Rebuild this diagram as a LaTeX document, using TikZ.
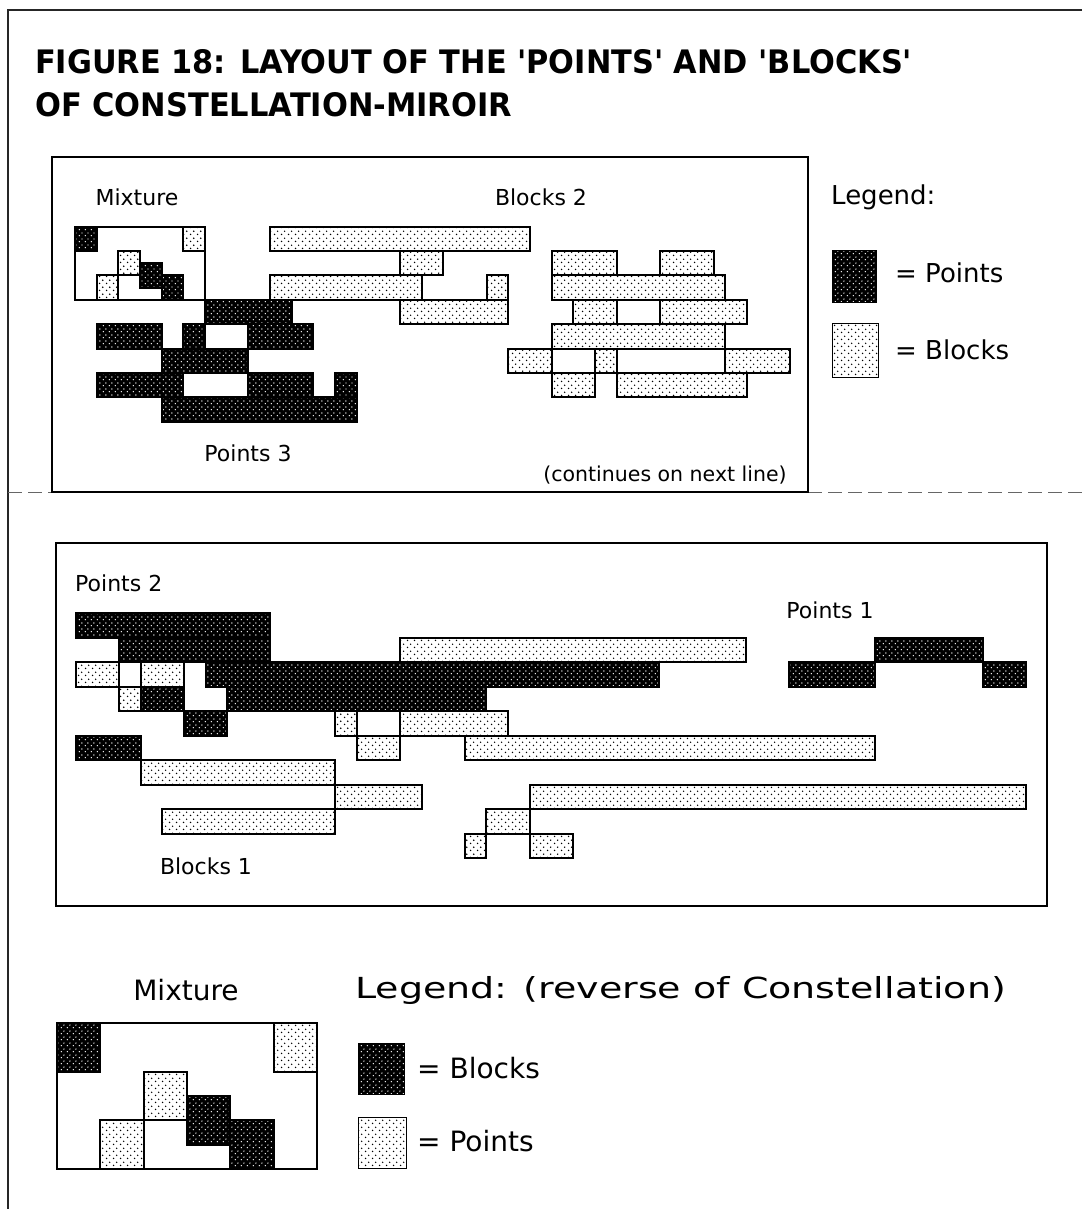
\documentclass[tikz,border=0pt]{standalone}
\usepackage{fontspec}
\usepackage{graphicx}
\setmainfont{DejaVu Sans}
\usetikzlibrary{patterns.meta}

\tikzdeclarepattern{
  name=sparsedots,
  type=uncolored,
  bottom left={(0pt,0pt)},
  top right={(7pt,7pt)},
  tile size={(7pt,7pt)},
  code={
    \tikzset{x=1pt,y=1pt}
    \fill (1.75,1.75) circle [radius=0.9];
    \fill (5.25,5.25) circle [radius=0.9];
  }
}
\tikzdeclarepattern{
  name=densedots,
  type=uncolored,
  bottom left={(0pt,0pt)},
  top right={(6pt,6pt)},
  tile size={(6pt,6pt)},
  code={
    \tikzset{x=1pt,y=1pt}
    \fill (1.5,1.5) circle [radius=0.8];
    \fill (4.5,4.5) circle [radius=0.8];
  }
}

\tikzset{
  cellD/.style={preaction={fill=black}, pattern=densedots, pattern color=white, draw=black, line width=2pt},
  cellL/.style={preaction={fill=white}, pattern=sparsedots, pattern color=black, draw=black, line width=2pt},
  mixbox/.style={fill=white, draw=black, line width=2pt},
  panelframe/.style={draw=black, line width=1.5pt},
  outerline/.style={draw=black!85, line width=1.5pt},
  divider/.style={draw=black!60, line width=1pt, dash pattern=on 14pt off 6pt},
  lbl/.style={inner sep=0pt, font=\fontsize{22}{26}\selectfont},
  smalllbl/.style={inner sep=0pt, font=\fontsize{20.5}{24}\selectfont},
  leg/.style={inner sep=0pt, font=\fontsize{26}{30}\selectfont},
  bigleg/.style={inner sep=0pt, font=\fontsize{28}{32}\selectfont},
  ttl/.style={inner sep=0pt, anchor=base west}
}
\newcommand{\darkcell}[4]{\path[cellD] (#1,#2) rectangle (#3,#4);}
\newcommand{\lightcell}[4]{\path[cellL] (#1,#2) rectangle (#3,#4);}

\begin{document}
\begin{tikzpicture}[x=1pt, y=-1pt]
\useasboundingbox[fill=white] (0,0) rectangle (1082,1209);

% outer frame lines
\draw[outerline] (1082,10) -- (8,10) -- (8,1209);
% divider continuing the first panel's bottom
\draw[divider] (8,492) -- (52,492);
\draw[divider] (808,492) -- (1082,492);

% title
\node[ttl] (title1) at (35,74) {\resizebox{877pt}{24pt}{\bfseries FIGURE 18: LAYOUT OF THE \textquotesingle POINTS\textquotesingle\ AND \textquotesingle BLOCKS\textquotesingle}};
\node[ttl] (title2) at (35,117) {\resizebox{477pt}{24pt}{\bfseries OF CONSTELLATION-MIROIR}};

% ---------------- panel 1 ----------------
\draw[panelframe] (52,157) rectangle (808,492);
\begin{scope}[shift={(75,226.5)}, x=21.67pt, y=-24.4pt]
  % mixture
  \path[mixbox] (0,0) rectangle (6,3);
  \darkcell{0}{0}{1}{1}
  \lightcell{5}{0}{6}{1}
  \lightcell{2}{1}{3}{2}
  \darkcell{3}{1.5}{4}{2.5}
  \darkcell{4}{2}{5}{3}
  \lightcell{1}{2}{2}{3}
  % Points 3
  \darkcell{6}{3}{10}{4}
  \darkcell{1}{4}{4}{5}
  \darkcell{5}{4}{6}{5}
  \darkcell{8}{4}{11}{5}
  \darkcell{4}{5}{8}{6}
  \darkcell{1}{6}{5}{7}
  \darkcell{8}{6}{11}{7}
  \darkcell{12}{6}{13}{7}
  \darkcell{4}{7}{13}{8}
  % Blocks 2
  \lightcell{9}{0}{21}{1}
  \lightcell{15}{1}{17}{2}
  \lightcell{9}{2}{16}{3}
  \lightcell{19}{2}{20}{3}
  \lightcell{15}{3}{20}{4}
  \lightcell{22}{1}{25}{2}
  \lightcell{27}{1}{29.5}{2}
  \lightcell{22}{2}{30}{3}
  \lightcell{23}{3}{25}{4}
  \lightcell{27}{3}{31}{4}
  \lightcell{22}{4}{30}{5}
  \lightcell{20}{5}{22}{6}
  \lightcell{24}{5}{25}{6}
  \lightcell{30}{5}{33}{6}
  \lightcell{22}{6}{24}{7}
  \lightcell{25}{6}{31}{7}
\end{scope}
\node[lbl] (mix1) at (137,197) {Mixture};
\node[lbl] (blk2) at (541,197) {Blocks 2};
\node[lbl] (pts3) at (248,453) {Points 3};
\node[smalllbl] (cont) at (665,475) {(continues on next line)};
% legend 1
\node[leg, anchor=west] (legend1) at (831,197) {Legend:};
\path[cellD, line width=1pt] (832,250) rectangle (876,302);
\path[cellL, line width=1pt] (832,323) rectangle (878,377);
\node[leg, anchor=west] (legP) at (895,273) {= Points};
\node[leg, anchor=west] (legB) at (895,350) {= Blocks};

% ---------------- panel 2 ----------------
\draw[panelframe] (56,543) rectangle (1047,906);
\begin{scope}[shift={(76,613)}, x=21.6pt, y=-24.5pt]
  % dark
  \darkcell{0}{0}{9}{1}
  \darkcell{2}{1}{9}{2}
  \darkcell{6}{2}{27}{3}
  \darkcell{3}{3}{5}{4}
  \darkcell{7}{3}{19}{4}
  \darkcell{5}{4}{7}{5}
  \darkcell{0}{5}{3}{6}
  \darkcell{33}{2}{37}{3}
  \darkcell{37}{1}{42}{2}
  \darkcell{42}{2}{44}{3}
  % light
  \lightcell{15}{1}{31}{2}
  \lightcell{0}{2}{2}{3}
  \lightcell{3}{2}{5}{3}
  \lightcell{2}{3}{3}{4}
  \lightcell{12}{4}{13}{5}
  \lightcell{15}{4}{20}{5}
  \lightcell{13}{5}{15}{6}
  \lightcell{18}{5}{37}{6}
  \lightcell{3}{6}{12}{7}
  \lightcell{12}{7}{16}{8}
  \lightcell{4}{8}{12}{9}
  \lightcell{21}{7}{44}{8}
  \lightcell{19}{8}{21}{9}
  \lightcell{18}{9}{19}{10}
  \lightcell{21}{9}{23}{10}
\end{scope}
\node[lbl, anchor=west] (pts2) at (75,583) {Points 2};
\node[lbl] (pts1) at (830,610) {Points 1};
\node[lbl] (blk1) at (206,866) {Blocks 1};

% ---------------- bottom section ----------------
\node[bigleg] (mix2) at (186,990) {Mixture};
\begin{scope}[shift={(57,1023)}, x=43.33pt, y=-24.33pt]
  \path[mixbox] (0,0) rectangle (6,6);
  \darkcell{0}{0}{1}{2}
  \lightcell{5}{0}{6}{2}
  \lightcell{2}{2}{3}{4}
  \darkcell{3}{3}{4}{5}
  \darkcell{4}{4}{5}{6}
  \lightcell{1}{4}{2}{6}
\end{scope}
\node[bigleg, anchor=west] (legend2) at (355,990) {\scalebox{1.31}[1]{\fontsize{29}{33}\selectfont Legend: (reverse of Constellation)}};
\path[cellD, line width=1pt] (358,1043) rectangle (404,1094);
\path[cellL, line width=1pt] (358,1117) rectangle (406,1168);
\node[bigleg, anchor=west] (legB2) at (417,1068) {= Blocks};
\node[bigleg, anchor=west] (legP2) at (417,1141) {= Points};
\end{tikzpicture}
\end{document}
